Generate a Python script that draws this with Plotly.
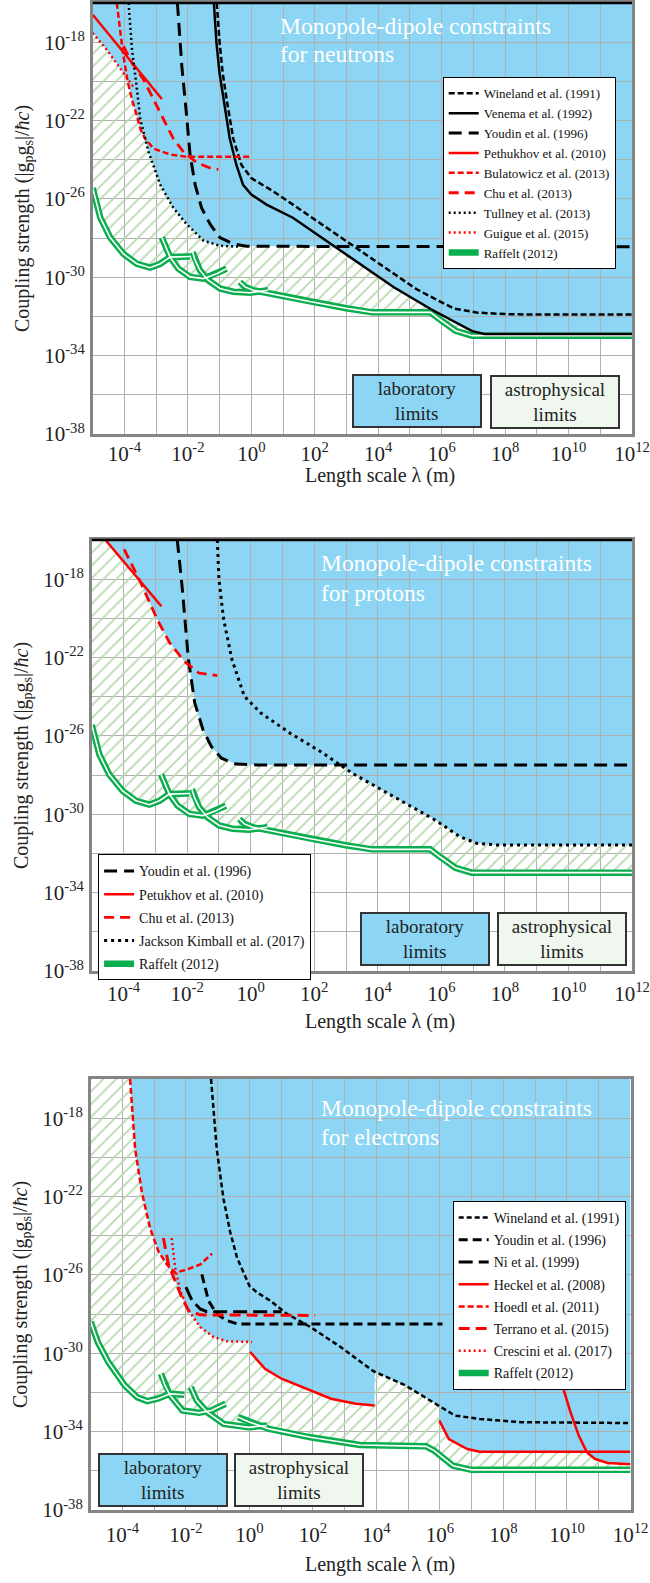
import numpy as np
import plotly.graph_objects as go

FONT = "Liberation Serif"
BLUE = "#8CD5F4"
HATCH = "#B5DAAE"
GREEN = "#0BAE4E"
RED = "#FF0000"
BLACK = "#000000"
GRIDC = "#B0B0B0"
AXC = "#858585"

# ---------------- axis ticks (log10 exponents) ----------------
X_LABEL_EXP = list(range(-4, 13, 2))
X_GRID_EXP = list(range(-5, 13, 2))
Y_LABEL_EXP = list(range(-38, -17, 4))
Y_GRID_EXP = list(range(-36, -15, 4))

# ---------------- data: log10(lambda / m), log10(|gp gs|/hbar c) ----------------
# Panel 1: neutrons
N_WINELAND_X = [-1.09, -1.0, -0.9, -0.78, -0.57, -0.31, 0.0, 0.27, 0.69, 1.31, 2.36, 3.41, 4.48, 5.2, 5.9, 6.4, 7.1, 8.0, 8.8, 12.0]
N_WINELAND_Y = [-16.0, -18.0, -19.6, -20.9, -22.92, -24.27, -24.94, -25.19, -25.61, -26.29, -27.46, -28.64, -29.8, -30.6, -31.2, -31.6, -31.8, -31.88, -31.9, -31.9]
N_VENEMA_X = [-1.18, -1.1, -1.0, -0.88, -0.68, -0.47, -0.26, 0.0, 0.48, 1.31, 2.36, 3.41, 4.48, 5.65, 6.44, 6.96, 7.35, 12.0]
N_VENEMA_Y = [-16.0, -18.0, -19.6, -20.9, -22.92, -24.27, -25.28, -25.78, -26.29, -26.96, -28.13, -29.3, -30.5, -31.62, -32.3, -32.75, -32.9, -32.9]
N_YOUDIN_X = [-2.33, -2.19, -2.04, -1.93, -1.77, -1.57, -1.3, -0.99, -0.57, -0.15, 12.0]
N_YOUDIN_Y = [-16.0, -19.23, -21.75, -23.76, -25.28, -26.45, -27.29, -27.97, -28.3, -28.42, -28.44]
N_PETHUKHOV_X = [-5.0, -2.82]
N_PETHUKHOV_Y = [-16.6, -20.9]
N_BULATOWICZ_X = [-4.24, -4.15, -4.05, -3.9, -3.75, -3.6, -3.5, -3.35, -3.08, -2.56, -2.04, -0.05]
N_BULATOWICZ_Y = [-16.0, -17.2, -18.5, -20.0, -21.0, -21.8, -22.42, -22.92, -23.43, -23.73, -23.85, -23.85]
N_CHU_X = [-4.03, -3.76, -3.4, -3.08, -2.77, -2.46, -2.14, -1.72, -1.3, -1.04]
N_CHU_Y = [-18.2, -19.06, -19.9, -20.9, -21.92, -22.92, -23.6, -24.15, -24.42, -24.49]
N_TULLNEY_X = [-3.87, -3.76, -3.63, -3.5, -3.24, -2.87, -2.46, -2.04, -1.51, -0.99, -0.36]
N_TULLNEY_Y = [-16.0, -18.39, -20.07, -21.92, -23.6, -25.28, -26.45, -27.29, -28.13, -28.39, -28.44]
N_GUIGUE_X = [-5.0, -4.55, -4.19, -3.71]
N_GUIGUE_Y = [-17.53, -18.4, -19.21, -20.3]

# Raffelt (2012), nucleons (neutrons and protons)
R_NUC_S1_X = [-5.0, -4.76, -4.45, -4.03, -3.61, -3.19, -2.87, -2.56, -1.93]
R_NUC_S1_Y = [-25.45, -26.96, -27.97, -28.81, -29.31, -29.51, -29.31, -28.97, -28.94]
R_NUC_S2_X = [-2.82, -2.72, -2.56, -2.3, -1.93, -1.51, -1.09, -0.78]
R_NUC_S2_Y = [-27.97, -28.39, -28.97, -29.56, -29.98, -30.07, -29.82, -29.56]
R_NUC_S3_X = [-1.85, -1.77, -1.62, -1.36, -0.99, -0.57, -0.05, 0.53]
R_NUC_S3_Y = [-28.72, -29.14, -29.65, -30.15, -30.57, -30.74, -30.79, -30.66]
R_NUC_S4_X = [-0.36, -0.2, 0.06, 0.79, 1.84, 2.99, 3.82, 5.65, 5.92, 6.44, 6.96, 12.0]
R_NUC_S4_Y = [-30.24, -30.49, -30.66, -30.91, -31.24, -31.58, -31.79, -31.79, -32.13, -32.73, -32.98, -32.98]

# Panel 2: protons
P_YOUDIN_X = [-2.31, -2.22, -2.16, -1.96, -1.76, -1.5, -1.24, -0.92, -0.46, 0.19, 12.0]
P_YOUDIN_Y = [-16.0, -17.3, -18.35, -22.1, -24.32, -25.69, -26.54, -27.14, -27.44, -27.48, -27.48]
P_PETUKHOV_X = [-4.57, -2.81]
P_PETUKHOV_Y = [-16.0, -19.38]
P_CHU_X = [-3.98, -3.46, -2.94, -2.55, -2.09, -1.63, -1.05]
P_CHU_Y = [-16.48, -18.18, -20.06, -21.25, -22.19, -22.79, -22.92]
P_JK_X = [-1.05, -1.0, -0.85, -0.59, -0.2, 0.32, 1.24, 2.28, 3.19, 4.5, 5.8, 6.58, 7.11, 7.76, 12.0]
P_JK_Y = [-16.0, -18.0, -20.06, -22.1, -23.98, -24.83, -25.86, -26.88, -27.9, -29.1, -30.29, -31.14, -31.48, -31.57, -31.57]

# Panel 3: electrons
E_WINELAND_X = [-1.21, -1.03, -0.82, -0.61, -0.39, 0.0, 0.24, 0.66, 1.18, 1.92, 2.86, 3.92, 4.91, 5.95, 6.47, 7.25, 8.55, 12.0]
E_WINELAND_Y = [-16.0, -19.58, -22.1, -23.79, -25.13, -26.56, -26.9, -27.32, -27.99, -28.66, -29.67, -30.93, -31.64, -32.67, -33.18, -33.35, -33.52, -33.56]
E_YOUDIN_X = [-1.5, -1.29, -1.03, -0.71, -0.39, 6.08]
E_YOUDIN_Y = [-25.97, -27.32, -27.99, -28.33, -28.5, -28.5]
E_NI_X = [-2.0, -1.81, -1.55, -1.34, 1.01]
E_NI_Y = [-26.62, -27.3, -27.74, -27.88, -27.88]
E_HECKEL_A_X = [0.02, 0.49, 1.01, 1.79, 2.57, 3.35, 3.94]
E_HECKEL_A_Y = [-29.93, -30.79, -31.3, -31.81, -32.32, -32.58, -32.67]
E_HECKEL_B_X = [5.98, 6.28, 6.86, 7.25, 12.0]
E_HECKEL_B_Y = [-33.44, -34.38, -34.89, -35.03, -35.03]
E_HECKEL_C_X = [9.5, 9.66, 10.11, 10.37, 10.63, 10.89, 11.28, 12.0]
E_HECKEL_C_Y = [-28.0, -30.62, -33.0, -34.2, -35.06, -35.4, -35.6, -35.66]
E_HOEDL_X = [-3.76, -3.6, -3.39, -3.13, -2.87, -2.6, -2.34, -1.97, -1.55, -1.18]
E_HOEDL_Y = [-16.0, -19.58, -21.77, -23.62, -24.79, -25.47, -25.89, -25.72, -25.47, -24.91]
E_TERRANO_X = [-2.71, -2.55, -2.34, -2.13, -1.92, -1.55, 2.07]
E_TERRANO_Y = [-24.12, -25.47, -26.31, -27.15, -27.82, -28.04, -28.07]
E_CRESCINI_X = [-2.45, -2.34, -2.18, -1.92, -1.55, -1.13, -0.71, 0.08]
E_CRESCINI_Y = [-24.12, -25.64, -26.81, -27.82, -28.66, -29.17, -29.39, -29.42]

# Raffelt (2012), electrons
R_E_S1_X = [-5.0, -4.78, -4.45, -3.93, -3.54, -3.22, -2.89, -2.5, -2.05]
R_E_S1_Y = [-28.39, -29.42, -30.44, -31.64, -32.24, -32.44, -32.32, -32.07, -32.12]
R_E_S2_X = [-2.79, -2.66, -2.5, -2.11, -1.59, -1.2, -0.75]
R_E_S2_Y = [-31.04, -31.64, -32.15, -32.92, -33.04, -32.92, -32.58]
R_E_S3_X = [-1.85, -1.66, -1.33, -0.81, -0.03, 0.55]
R_E_S3_Y = [-31.73, -32.41, -33.01, -33.61, -33.78, -33.69]
R_E_S4_X = [-0.36, -0.03, 0.62, 1.92, 3.48, 5.56, 5.82, 6.41, 6.99, 12.0]
R_E_S4_Y = [-33.26, -33.49, -33.86, -34.29, -34.68, -34.75, -34.97, -35.74, -35.95, -35.95]

X_RANGE = [-5, 12]
Y_RANGE = [-38, -16]

R_NUC = [(R_NUC_S1_X, R_NUC_S1_Y), (R_NUC_S2_X, R_NUC_S2_Y), (R_NUC_S3_X, R_NUC_S3_Y), (R_NUC_S4_X, R_NUC_S4_Y)]
R_E = [(R_E_S1_X, R_E_S1_Y), (R_E_S2_X, R_E_S2_Y), (R_E_S3_X, R_E_S3_Y), (R_E_S4_X, R_E_S4_Y)]

# name, segments, color, dash, width
PANEL_CURVES = [
    [
        ("Wineland et al. (1991)", [(N_WINELAND_X, N_WINELAND_Y)], BLACK, "6px,3px", 2.5),
        ("Venema et al. (1992)", [(N_VENEMA_X, N_VENEMA_Y)], BLACK, "solid", 2.5),
        ("Youdin et al. (1996)", [(N_YOUDIN_X, N_YOUDIN_Y)], BLACK, "13px,7px", 3),
        ("Pethukhov et al. (2010)", [(N_PETHUKHOV_X, N_PETHUKHOV_Y)], RED, "solid", 2.5),
        ("Bulatowicz et al. (2013)", [(N_BULATOWICZ_X, N_BULATOWICZ_Y)], RED, "6px,3px", 2.5),
        ("Chu et al. (2013)", [(N_CHU_X, N_CHU_Y)], RED, "10px,6px", 2.8),
        ("Tullney et al. (2013)", [(N_TULLNEY_X, N_TULLNEY_Y)], BLACK, "2px,3px", 2.5),
        ("Guigue et al. (2015)", [(N_GUIGUE_X, N_GUIGUE_Y)], RED, "2px,3px", 2.5),
    ],
    [
        ("Youdin et al. (1996)", [(P_YOUDIN_X, P_YOUDIN_Y)], BLACK, "13px,7px", 3),
        ("Petukhov et al. (2010)", [(P_PETUKHOV_X, P_PETUKHOV_Y)], RED, "solid", 2.5),
        ("Chu et al. (2013)", [(P_CHU_X, P_CHU_Y)], RED, "10px,6px", 2.8),
        ("Jackson Kimball et al. (2017)", [(P_JK_X, P_JK_Y)], BLACK, "3px,4px", 3),
    ],
    [
        ("Wineland et al. (1991)", [(E_WINELAND_X, E_WINELAND_Y)], BLACK, "5px,3px", 2.5),
        ("Youdin et al. (1996)", [(E_YOUDIN_X, E_YOUDIN_Y)], BLACK, "9px,5px", 3),
        ("Ni et al. (1999)", [(E_NI_X, E_NI_Y)], BLACK, "14px,6px", 3),
        ("Heckel et al. (2008)", [(E_HECKEL_A_X, E_HECKEL_A_Y), (E_HECKEL_B_X, E_HECKEL_B_Y), (E_HECKEL_C_X, E_HECKEL_C_Y)], RED, "solid", 2.5),
        ("Hoedl et al. (2011)", [(E_HOEDL_X, E_HOEDL_Y)], RED, "6px,3px", 2.5),
        ("Terrano et al. (2015)", [(E_TERRANO_X, E_TERRANO_Y)], RED, "11px,6px", 3),
        ("Crescini et al. (2017)", [(E_CRESCINI_X, E_CRESCINI_Y)], RED, "2px,3px", 2.5),
    ],
]
PANEL_RAFFELT = [R_NUC, R_NUC, R_E]
PANEL_NAMES = ["neutrons", "protons", "electrons"]

# ---------------- layout (pixels in a 650 x 1583 page) ----------------
W, H = 650, 1583
PH = 431
LAYOUT_SPEC = [
    dict(left=92.7, right=632, top=3, title=(277.5, 25.6, 54.0), lab=(416.6, 401.1), astro=(555.2, 401.9),
         legend=dict(x=442.7, y=77.3, size=13, gap=0), black_top=True, tick_so=-1, xtitle_y=476),
    dict(left=91.8, right=632, top=540, title=(318.7, 563.0, 592.9), lab=(425.0, 939.4), astro=(561.6, 939.4),
         legend=dict(x=98.1, y=854.4, size=14, gap=2), black_top=True, tick_so=2, xtitle_y=1021),
    dict(left=90.7, right=630.5, top=1079, title=(318.6, 1107.8, 1136.6), lab=(162.7, 1479.6), astro=(299.0, 1479.6),
         legend=dict(x=452.7, y=1201.0, size=14, gap=1), black_top=False, tick_so=4, xtitle_y=1564),
]

GRID = np.linspace(X_RANGE[0], X_RANGE[1], 1701)


def envelope(curves, default):
    env = np.full(GRID.shape, np.inf)
    for xs, ys in curves:
        xs = np.asarray(xs, float)
        ys = np.asarray(ys, float)
        m = (GRID >= xs[0]) & (GRID <= xs[-1])
        env[m] = np.minimum(env[m], np.interp(GRID[m], xs, ys))
    env[np.isinf(env)] = default
    return np.clip(env, Y_RANGE[0], Y_RANGE[1])


def seg_join(segs):
    xs, ys = [], []
    for sx, sy in segs:
        if xs:
            xs.append(None)
            ys.append(None)
        xs += [10.0 ** v for v in sx]
        ys += [10.0 ** v for v in sy]
    return xs, ys


fig = go.Figure()
shapes = []
annotations = []
layout_axes = {}
tickfont = dict(family=FONT, size=21, color="#222")

for i, (curves, raff, pname, spec) in enumerate(zip(PANEL_CURVES, PANEL_RAFFELT, PANEL_NAMES, LAYOUT_SPEC)):
    n = "" if i == 0 else str(i + 1)
    xa, ya = "x" + n, "y" + n
    leg = "legend" + n
    bottom = spec["top"] + PH

    lab_segs = [s for c in curves for s in c[1]]
    lab_env = envelope(lab_segs, Y_RANGE[1])
    raff_env = envelope(raff, Y_RANGE[0])

    # laboratory-limit region (drawn below the grid)
    pts = [(10.0 ** X_RANGE[0], 10.0 ** Y_RANGE[1])] + [(10.0 ** gx, 10.0 ** gy) for gx, gy in zip(GRID, lab_env)] + [(10.0 ** X_RANGE[1], 10.0 ** Y_RANGE[1])]
    path = "M " + " L ".join(f"{px:.6e},{py:.6e}" for px, py in pts) + " Z"
    shapes.append(dict(type="path", path=path, xref=xa, yref=ya, fillcolor=BLUE, line=dict(width=0), layer="below"))

    # astrophysical-limit region (hatched)
    upper = lab_env
    lower = np.minimum(raff_env, upper)
    hx = [10.0 ** v for v in np.concatenate([GRID, GRID[::-1]])]
    hy = [10.0 ** v for v in np.concatenate([upper, lower[::-1]])]
    fig.add_trace(go.Scatter(x=hx, y=hy, xaxis=xa, yaxis=ya, mode="lines", fill="toself",
                             line=dict(width=0, color="rgba(0,0,0,0)"), fillcolor="rgba(0,0,0,0)",
                             fillpattern=dict(shape="/", fgcolor=HATCH, bgcolor="rgba(0,0,0,0)", size=9, solidity=0.2),
                             hoverinfo="skip", showlegend=False))

    # Raffelt double line
    rx, ry = seg_join(raff)
    fig.add_trace(go.Scatter(x=rx, y=ry, xaxis=xa, yaxis=ya, mode="lines", name="Raffelt (2012)",
                             line=dict(color=GREEN, width=6.5), legend=leg, legendgroup=f"raff{i}",
                             legendrank=100, connectgaps=False))
    fig.add_trace(go.Scatter(x=rx, y=ry, xaxis=xa, yaxis=ya, mode="lines", showlegend=False,
                             line=dict(color="white", width=1.6), hoverinfo="skip", connectgaps=False))

    for k, (name, segs, color, dash, width) in enumerate(curves):
        cx, cy = seg_join(segs)
        fig.add_trace(go.Scatter(x=cx, y=cy, xaxis=xa, yaxis=ya, mode="lines", name=name,
                                 line=dict(color=color, dash=dash, width=width),
                                 legend=leg, legendgroup=f"g{i}_{k}", legendrank=k + 1, connectgaps=False))

    # axes
    layout_axes["xaxis" + n] = dict(
        domain=[spec["left"] / W, spec["right"] / W], anchor=ya, type="log", range=X_RANGE,
        automargin=False,
        tickmode="array", tickvals=[10.0 ** e for e in X_LABEL_EXP],
        ticktext=[f"10<sup>{e}</sup>" for e in X_LABEL_EXP],
        minor=dict(tickmode="array", tickvals=[10.0 ** e for e in X_GRID_EXP], showgrid=True,
                   gridcolor=GRIDC, gridwidth=1.2, ticks=""),
        showgrid=True, gridcolor=GRIDC, gridwidth=1.2, zeroline=False,
        showline=True, linecolor=AXC, linewidth=2.5, mirror=True, ticks="",
        tickfont=tickfont, ticklabelstandoff=spec["tick_so"])
    layout_axes["yaxis" + n] = dict(
        domain=[1 - bottom / H, 1 - spec["top"] / H], anchor=xa, type="log", range=Y_RANGE,
        automargin=False,
        tickmode="array", tickvals=[10.0 ** e for e in Y_LABEL_EXP],
        ticktext=[f"10<sup>{e}</sup>" for e in Y_LABEL_EXP],
        minor=dict(tickmode="array", tickvals=[10.0 ** e for e in Y_GRID_EXP], showgrid=True,
                   gridcolor=GRIDC, gridwidth=1.2, ticks=""),
        showgrid=True, gridcolor=GRIDC, gridwidth=1.2, zeroline=False,
        showline=True, linecolor=AXC, linewidth=2.5, mirror=True, ticks="",
        tickfont=tickfont, ticklabelstandoff=1,
        title=dict(text="Coupling strength (|g<sub>p</sub>g<sub>s</sub>|/<i>ħc</i>)",
                   font=dict(family=FONT, size=20, color="#222"), standoff=10))

    if spec["black_top"]:
        shapes.append(dict(type="line", xref=xa + " domain", yref=ya + " domain", x0=0, x1=1, y0=1, y1=1,
                           line=dict(color=BLACK, width=2.5), layer="above"))

    # legend
    lg = spec["legend"]
    layout_axes[leg] = dict(x=lg["x"] / W, y=1 - lg["y"] / H, xanchor="left", yanchor="top",
                            bgcolor="white", bordercolor=BLACK, borderwidth=1,
                            font=dict(family=FONT, size=lg["size"], color="#111"),
                            tracegroupgap=lg["gap"], itemwidth=30)

    # in-plot title
    tx, ty1, ty2 = spec["title"]
    for txt, ty in (("Monopole-dipole constraints", ty1), ("for " + pname, ty2)):
        annotations.append(dict(text=txt, xref="paper", yref="paper", x=tx / W, y=1 - ty / H,
                                xanchor="left", yanchor="middle", showarrow=False,
                                font=dict(family=FONT, size=23.5, color="white")))

    # key boxes
    for (bx, by), txt, bg in ((spec["lab"], "laboratory<br>limits", BLUE),
                              (spec["astro"], "astrophysical<br>limits", "#F0F7EE")):
        annotations.append(dict(text=txt, xref="paper", yref="paper", x=bx / W, y=1 - by / H,
                                xanchor="center", yanchor="middle", showarrow=False,
                                width=126, height=50, bgcolor=bg, bordercolor="#333", borderwidth=2, borderpad=0,
                                font=dict(family=FONT, size=19, color="#222")))

    # x-axis title
    annotations.append(dict(text="Length scale λ (m)", xref="paper", yref="paper", x=380 / W, y=1 - spec["xtitle_y"] / H,
                            xanchor="center", yanchor="middle", showarrow=False,
                            font=dict(family=FONT, size=20, color="#222")))

fig.update_layout(
    template="none",
    width=W, height=H, margin=dict(l=0, r=0, t=0, b=0, autoexpand=False),
    paper_bgcolor="white", plot_bgcolor="white",
    font=dict(family=FONT, color="#222"),
    shapes=shapes, annotations=annotations, **layout_axes)

fig.write_html("out.html")
